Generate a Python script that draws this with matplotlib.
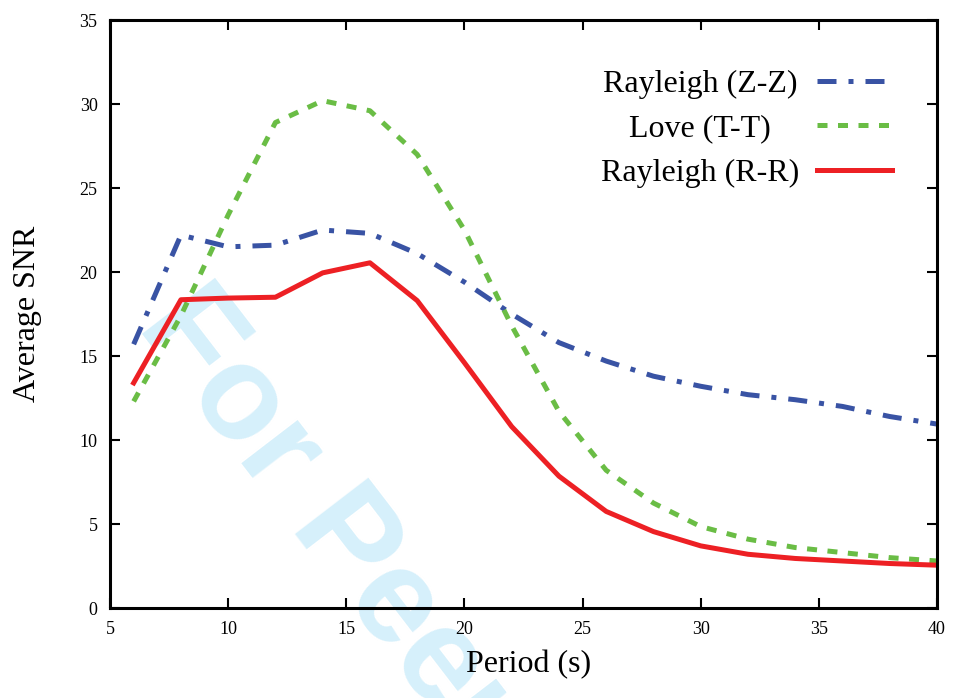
import matplotlib.pyplot as plt

plt.rcParams['font.family'] = ['Liberation Serif', 'DejaVu Serif']

# Period (s)
periods = [6, 8, 10, 12, 14, 16, 18, 20, 22, 24, 26, 28, 30, 32, 34, 36, 38, 40]

# Average SNR for each component pair
snr_zz = [15.7, 22.2, 21.5, 21.6, 22.5, 22.3, 21.1, 19.4, 17.5, 15.8,
          14.7, 13.8, 13.2, 12.7, 12.4, 12.0, 11.4, 10.95]
snr_tt = [12.3, 17.4, 23.4, 28.9, 30.2, 29.6, 27.0, 22.5, 16.8, 11.7,
          8.2, 6.25, 4.85, 4.1, 3.6, 3.3, 3.0, 2.8]
snr_rr = [13.4, 18.35, 18.45, 18.5, 19.95, 20.55, 18.3, 14.6, 10.8, 7.85,
          5.75, 4.55, 3.7, 3.2, 2.95, 2.8, 2.65, 2.55]

labels = ["Rayleigh (Z-Z)", "Love (T-T)", "Rayleigh (R-R)"]
xticks = [5, 10, 15, 20, 25, 30, 35, 40]
yticks = [0, 5, 10, 15, 20, 25, 30, 35]

fig = plt.figure(figsize=(9.56, 6.98), dpi=100)
ax = fig.add_axes([0.1151, 0.1289, 0.8650, 0.8424])

lw = 3.6
ax.plot(periods, snr_zz, color="#3953a4", lw=lw, dashes=(3.8, 2.4, 1, 2.4),
        label=labels[0])
ax.plot(periods, snr_tt, color="#6abd45", lw=lw, dashes=(2.0, 2.1),
        label=labels[1])
ax.plot(periods, snr_rr, color="#ed2024", lw=lw, label=labels[2])

ax.set_xlim(5, 40)
ax.set_ylim(0, 35)
ax.set_xticks(xticks)
ax.set_yticks(yticks)
ax.tick_params(direction="in", length=7, width=1.5, labelsize=13,
               top=True, right=True)
ax.tick_params(axis="x", pad=9)
ax.tick_params(axis="y", pad=9)
for s in ax.spines.values():
    s.set_linewidth(2.2)

ax.set_xlabel("Period (s)", fontsize=23)
ax.set_ylabel("Average SNR", fontsize=23)
ax.xaxis.set_label_coords(0.506, -0.071)
ax.yaxis.set_label_coords(-0.082, 0.5)

# watermark
ax.text(0.142, 0.533, "For Peer Review", transform=fig.transFigure,
        family="Liberation Sans", weight="bold", fontsize=96,
        color="#d6f0fb", rotation=-52.5, rotation_mode="anchor",
        ha="left", va="baseline", zorder=0.5, clip_on=False)

leg = ax.legend(loc="upper right", bbox_to_anchor=(0.961, 0.937),
                frameon=False, markerfirst=False, fontsize=23,
                handlelength=2.35, handletextpad=0.55, labelspacing=0.47,
                borderaxespad=0)

# centre the shorter label like the original
renderer = fig.canvas.get_renderer()
texts = leg.get_texts()
widths = [t.get_window_extent(renderer).width for t in texts]
rows = leg._legend_handle_box.get_children()[0].get_children()
for row, w in zip(rows, widths):
    row.sep += (max(widths) - w) / 2 * 72 / fig.dpi

fig.savefig("out.png", dpi=100)
